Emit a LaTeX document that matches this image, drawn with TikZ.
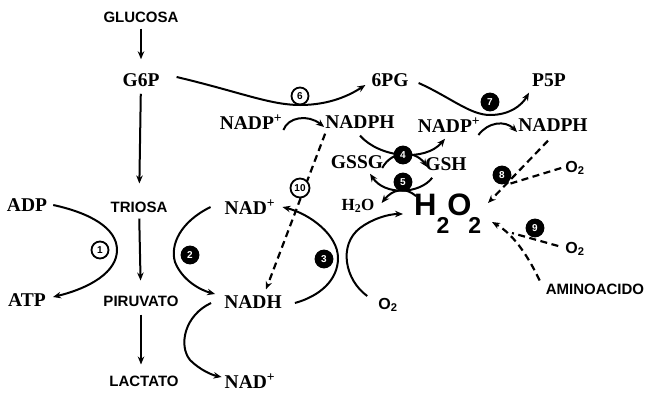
\documentclass[tikz,border=0pt]{standalone}
\usepackage{fontspec}
\setmainfont{Liberation Serif}
\newfontfamily\sansf{Liberation Sans}
\usetikzlibrary{arrows.meta}
\begin{document}
\begin{tikzpicture}[x=1pt,y=-1pt,
  met/.style={font=\bfseries\fontsize{19.5}{21}\selectfont, inner sep=1pt},
  lab/.style={font=\sansf\bfseries\fontsize{15}{17}\selectfont, inner sep=1pt},
  arr/.style={line width=2pt, -{Stealth[length=8pt,width=6.5pt]}},
  dline/.style={line width=2.2pt, dash pattern=on 7pt off 4.5pt},
  darr/.style={dline, -{Stealth[length=8pt,width=6.5pt]}},
  enz/.style={circle, draw, fill=white, line width=1.8pt, minimum size=17pt, inner sep=0pt,
              font=\sansf\bfseries\fontsize{10}{10}\selectfont},
  enzd/.style={enz, fill=black, text=white}]
\useasboundingbox (0,0) rectangle (648,392);

% metabolites
\node[lab] (glu) at (141,17) {GLUCOSA};
\node[met] (g6p) at (141,80) {G6P};
\node[lab] (tri) at (139,207) {TRIOSA};
\node[lab] (pir) at (141,301) {PIRUVATO};
\node[lab] (lac) at (144,381) {LACTATO};
\node[met] (adp) at (27,205) {ADP};
\node[met] (atp) at (27,300) {ATP};
\node[met] (nadA) at (250,207) {NAD\textsuperscript{+}};
\node[met] (nadh) at (253,302) {NADH};
\node[met] (nadB) at (250,381) {NAD\textsuperscript{+}};
\node[met] (nadp1) at (251,122) {NADP\textsuperscript{+}};
\node[met] (nadph1) at (360,122) {NADPH};
\node[met] (pg6) at (390,80) {6PG};
\node[met] (p5p) at (549,80) {P5P};
\node[met] (nadp2) at (449,125) {NADP\textsuperscript{+}};
\node[met] (nadph2) at (553,125) {NADPH};
\node[met] (gssg) at (357,162) {GSSG};
\node[met] (gsh) at (446,164) {GSH};
\node[met, font=\bfseries\fontsize{17}{19}\selectfont] (h2o) at (358,206) {H\textsubscript{2}O};
\node[anchor=base west, inner sep=0pt, font=\sansf\bfseries] (h2o2) at (414,215)
  {\fontsize{31}{31}\selectfont H\kern0pt\raisebox{-18pt}{\fontsize{23}{23}\selectfont 2}\kern-2pt O\kern-3pt\raisebox{-18pt}{\fontsize{23}{23}\selectfont 2}};
\node[lab, font=\sansf\bfseries\fontsize{16}{18}\selectfont] (o2a) at (388,305) {O\textsubscript{2}};
\node[lab, font=\sansf\bfseries\fontsize{16}{18}\selectfont] (o2b) at (575,168) {O\textsubscript{2}};
\node[lab, font=\sansf\bfseries\fontsize{16}{18}\selectfont] (o2c) at (575,249) {O\textsubscript{2}};
\node[lab] (amino) at (595,289) {AMINOACIDO};

\coordinate (tO2) at (403,214);
\coordinate (t8) at (488,203);
\coordinate (t9) at (492,222);
\coordinate (j8) at (509,184);
\coordinate (j9) at (512,233);

% glycolysis
\draw[arr, shorten <=5pt, shorten >=13pt] (glu) -- (g6p);
\draw[arr, shorten <=6pt, shorten >=17pt] (g6p) -- (tri);
\draw[arr, shorten <=5pt, shorten >=14pt] (tri) -- (pir);
\draw[arr, shorten <=7pt, shorten >=10pt] (pir.south) -- (pir.south |- lac.north);

% 1
\draw[arr] ([xshift=5pt]adp.east) .. controls (90,213) and (117,228) .. (117,250)
  .. controls (117,272) and (90,288) .. ([xshift=6pt,yshift=3pt]atp.east);
% 2
\draw[arr] ([xshift=-13pt]nadA.west) .. controls (180,222) and (170,245) .. (175,262)
  .. controls (182,280) and (200,290) .. ([xshift=-8pt,yshift=8pt]nadh.west);
% NADH -> NAD+
\draw[arr] ([xshift=-12pt,yshift=-1pt]nadh.west) .. controls (185,315) and (178,345) .. (190,360)
  .. controls (200,370) and (212,375) .. ([xshift=-2pt,yshift=4pt]nadB.west);
% 3
\draw[arr] ([xshift=12pt,yshift=-1pt]nadh.east) .. controls (320,296) and (338,280) .. (338,258)
  .. controls (338,235) and (310,214) .. ([xshift=6pt]nadA.east);
% O2 -> H2O2
\draw[arr] ([xshift=-10pt,yshift=9pt]o2a.west) .. controls (345,280) and (338,245) .. (360,228)
  .. controls (372,219) and (388,214) .. (tO2);

% pentose pathway
\draw[arr] ([xshift=16pt,yshift=3pt]g6p.east) .. controls (240,92) and (270,105) .. (300,105)
  .. controls (330,105) and (350,95) .. ([xshift=-5pt,yshift=-5pt]pg6.west);
\draw[arr] ([xshift=9pt,yshift=-3pt]pg6.east) .. controls (450,97) and (470,115) .. (490,115)
  .. controls (510,115) and (522,105) .. ([xshift=-2pt,yshift=-5pt]p5p.south west);
\draw[arr] ([yshift=-8pt]nadp1.east) .. controls (288,117) and (308,114) .. ([yshift=-5pt]nadph1.west);
\draw[arr] ([xshift=-3pt,yshift=-10pt]nadp2.east) .. controls (488,122) and (505,120) .. ([yshift=-7pt]nadph2.west);

% 4
\draw[arr] ([yshift=-6pt]nadph1.south) .. controls (380,158) and (425,162) .. ([xshift=-4pt,yshift=-5pt]nadp2.south);
\draw[arr] ([xshift=-2pt,yshift=-6pt]gssg.east) .. controls (392,150) and (415,150) .. ([xshift=3pt,yshift=-3pt]gsh.west);
% 5
\draw[arr] ([xshift=8pt,yshift=-6pt]gsh.south west) .. controls (420,194) and (385,196) .. ([xshift=13pt,yshift=-4pt]gssg.south);
\draw[arr] ([xshift=2pt,yshift=-3pt]h2o2.north west) .. controls (405,186) and (392,190) .. ([xshift=6pt,yshift=3pt]h2o.east);

% dashed
\draw[darr] ([xshift=1pt,yshift=-4pt]nadph1.south west) -- ([xshift=13pt,yshift=5pt]nadh.north);
\draw[darr] ([xshift=-5pt,yshift=-8pt]nadph2.south) -- (t8);
\draw[dline] ([xshift=-3pt]o2b.west) -- (j8);
\draw[darr] ([xshift=-5pt,yshift=2pt]amino.north west) .. controls (530,260) and (515,235) .. (t9);
\draw[dline] ([xshift=-6pt,yshift=3pt]o2c.west) -- (j9);

% enzymes
\node[enz] (e1) at (100,250) {1};
\node[enzd] (e2) at (190,255) {2};
\node[enzd] (e3) at (324,259) {3};
\node[enzd] (e4) at (403,155) {4};
\node[enzd] (e5) at (403,182) {5};
\node[enz] (e6) at (300,96) {6};
\node[enzd] (e7) at (490,102) {7};
\node[enzd] (e8) at (502,175) {8};
\node[enzd] (e9) at (535,228) {9};
\node[enz, minimum size=19pt] (e10) at (300,188) {10};
\end{tikzpicture}
\end{document}
